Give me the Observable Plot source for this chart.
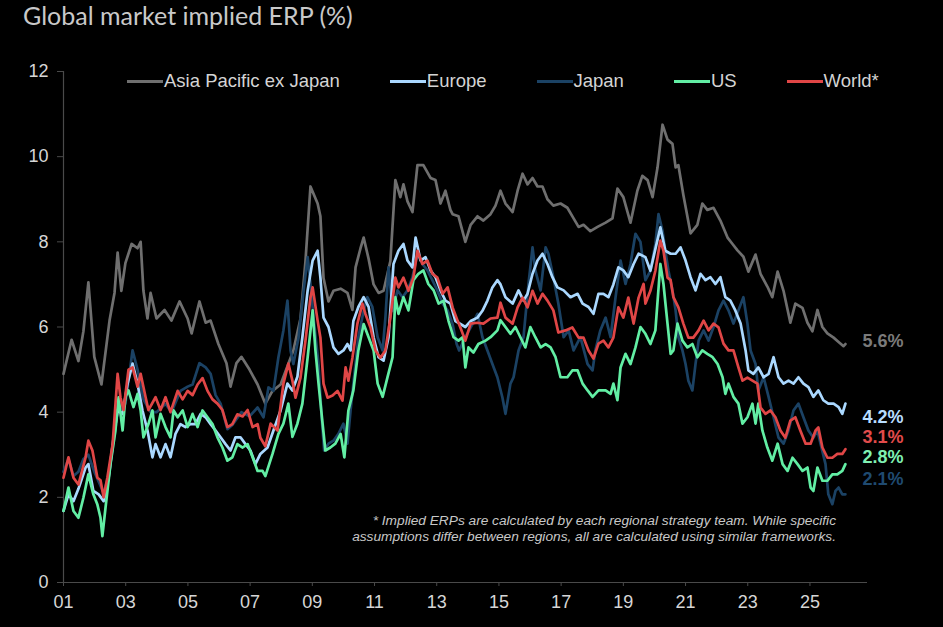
<!DOCTYPE html>
<html>
<head>
<meta charset="utf-8">
<script src="https://cdn.jsdelivr.net/npm/d3@7"></script>
<script src="https://cdn.jsdelivr.net/npm/@observablehq/plot@0.6"></script>
<style>
  html, body { margin: 0; padding: 0; background: #000; }
  body { width: 943px; height: 627px; overflow: hidden; position: relative; }
  #titlebar { height: 40px; position: relative; }
  #title { position: absolute; left: 23px; top: 0px; font: 25px Lato, "Open Sans", sans-serif; line-height: 30px; color: #c9c9c9; white-space: nowrap; }
  #legend { position: absolute; left: 127px; top: 70px; height: 22px; display: flex; align-items: center; font: 18.5px "Liberation Sans", Arial, sans-serif; color: #d4d4d4; white-space: nowrap; }
  .item { display: flex; align-items: center; margin-right: 50px; }
  .sw { width: 36px; height: 3px; margin-right: 1px; }
  #note { position: absolute; right: 107px; top: 513px; font: italic 13.7px "Liberation Sans", Arial, sans-serif; line-height: 16px; color: #c8c8c8; text-align: right; white-space: nowrap; }
</style>
</head>
<body>
<div id="titlebar"><div id="title">Global market implied ERP (%)</div></div>
<div id="chart"></div>
<div id="legend"></div>
<div id="note">* Implied ERPs are calculated by each regional strategy team. While specific<br>assumptions differ between regions, all are calculated using similar frameworks.</div>
<script>
// ---- Data (decimal year, implied ERP %) ----
const seriesNames = ["Asia Pacific ex Japan", "Europe", "Japan", "US", "World*"];
const xTicks = [2001, 2003, 2005, 2007, 2009, 2011, 2013, 2015, 2017, 2019, 2021, 2023, 2025];
const yTicks = [0, 2, 4, 6, 8, 10, 12];

const asiaPacExJapan = [[2001.00,4.9],[2001.26,5.7],[2001.48,5.2],[2001.64,5.9],[2001.80,7.05],[2001.99,5.3],[2002.22,4.65],[2002.48,6.15],[2002.64,6.8],[2002.74,7.75],[2002.86,6.85],[2002.99,7.5],[2003.19,7.95],[2003.38,7.85],[2003.48,8.0],[2003.57,6.85],[2003.70,6.2],[2003.80,6.8],[2003.99,6.2],[2004.25,6.4],[2004.47,6.15],[2004.73,6.6],[2004.99,6.2],[2005.12,5.85],[2005.37,6.6],[2005.57,6.1],[2005.73,6.15],[2005.98,5.6],[2006.24,5.15],[2006.37,4.6],[2006.56,5.15],[2006.72,5.3],[2006.98,5.0],[2007.24,4.65],[2007.49,4.2],[2007.72,4.5],[2007.98,4.65],[2008.39,5.45],[2008.62,6.2],[2008.78,7.55],[2008.94,9.3],[2009.17,8.9],[2009.26,8.6],[2009.36,7.15],[2009.52,6.6],[2009.68,6.85],[2009.91,6.9],[2010.13,6.8],[2010.29,6.4],[2010.39,7.4],[2010.55,7.85],[2010.65,8.1],[2010.81,7.6],[2010.97,7.0],[2011.13,6.8],[2011.29,6.85],[2011.51,7.55],[2011.67,9.45],[2011.83,9.05],[2011.93,9.35],[2012.06,8.95],[2012.22,8.7],[2012.38,9.8],[2012.57,9.8],[2012.80,9.5],[2012.96,9.45],[2013.12,8.9],[2013.28,9.2],[2013.44,8.75],[2013.51,8.65],[2013.70,8.6],[2013.92,8.0],[2014.09,8.4],[2014.31,8.6],[2014.50,8.5],[2014.73,8.65],[2014.89,8.85],[2015.05,9.2],[2015.21,8.9],[2015.44,8.7],[2015.60,9.2],[2015.76,9.6],[2015.92,9.35],[2016.08,9.5],[2016.24,9.3],[2016.40,9.3],[2016.56,9.0],[2016.75,8.85],[2016.98,8.9],[2017.20,8.8],[2017.40,8.55],[2017.56,8.35],[2017.72,8.4],[2017.94,8.25],[2018.17,8.35],[2018.43,8.45],[2018.65,8.55],[2018.81,9.25],[2019.00,9.05],[2019.23,8.45],[2019.45,9.2],[2019.61,9.55],[2019.78,9.45],[2019.94,9.05],[2020.10,9.75],[2020.26,10.75],[2020.42,10.4],[2020.58,10.3],[2020.68,9.75],[2020.77,9.8],[2020.93,9.1],[2021.16,8.2],[2021.38,8.4],[2021.54,8.9],[2021.70,8.75],[2021.90,8.8],[2022.12,8.5],[2022.35,8.1],[2022.51,7.95],[2022.67,7.8],[2022.86,7.65],[2023.02,7.3],[2023.25,7.7],[2023.41,7.25],[2023.63,6.95],[2023.79,6.7],[2023.96,7.3],[2024.15,6.85],[2024.37,6.1],[2024.53,6.55],[2024.76,6.45],[2024.92,6.1],[2025.08,5.9],[2025.24,6.4],[2025.40,6.0],[2025.56,5.85],[2025.76,5.75],[2025.92,5.65],[2026.08,5.55],[2026.14,5.6]];

const europe = [[2001.00,1.68],[2001.16,2.07],[2001.32,1.91],[2001.48,2.2],[2001.71,2.7],[2001.80,2.78],[2001.96,2.15],[2002.13,2.07],[2002.29,1.91],[2002.45,2.46],[2002.61,3.41],[2002.74,4.04],[2002.90,3.96],[2003.06,4.67],[2003.22,5.14],[2003.38,4.67],[2003.54,4.04],[2003.70,3.57],[2003.86,2.94],[2003.96,3.25],[2004.12,2.94],[2004.28,3.25],[2004.44,2.94],[2004.60,3.49],[2004.76,3.72],[2004.92,3.65],[2005.08,3.72],[2005.24,3.72],[2005.41,3.96],[2005.57,3.88],[2005.73,3.72],[2005.89,3.57],[2006.05,3.41],[2006.21,3.25],[2006.37,3.1],[2006.53,3.41],[2006.69,3.41],[2006.85,3.25],[2007.01,3.1],[2007.17,2.78],[2007.33,3.02],[2007.56,3.17],[2007.75,3.57],[2007.98,4.04],[2008.20,4.67],[2008.36,4.51],[2008.52,4.83],[2008.68,5.76],[2008.85,6.86],[2009.01,7.56],[2009.17,7.79],[2009.26,7.16],[2009.36,6.22],[2009.52,6.0],[2009.68,5.52],[2009.84,5.37],[2010.00,5.45],[2010.13,5.6],[2010.23,5.45],[2010.32,6.14],[2010.48,6.47],[2010.65,6.7],[2010.81,6.47],[2010.97,5.76],[2011.13,5.29],[2011.29,5.21],[2011.45,5.76],[2011.61,7.48],[2011.77,7.79],[2011.93,7.95],[2012.06,7.56],[2012.22,7.4],[2012.32,8.1],[2012.48,7.56],[2012.64,7.64],[2012.80,7.33],[2012.96,7.17],[2013.12,6.86],[2013.28,6.62],[2013.44,6.55],[2013.60,6.14],[2013.76,6.07],[2013.92,6.0],[2014.09,6.14],[2014.31,6.22],[2014.47,6.38],[2014.63,6.62],[2014.79,6.93],[2014.95,7.1],[2015.05,7.0],[2015.21,6.7],[2015.44,6.55],[2015.63,6.86],[2015.79,6.62],[2015.92,6.78],[2016.08,7.25],[2016.24,7.56],[2016.40,7.72],[2016.56,7.48],[2016.72,7.17],[2016.88,6.93],[2017.08,6.86],[2017.30,6.7],[2017.53,6.78],[2017.69,6.55],[2017.88,6.47],[2018.04,6.31],[2018.20,6.78],[2018.36,6.78],[2018.52,6.7],[2018.68,7.0],[2018.84,7.4],[2019.00,7.33],[2019.16,7.17],[2019.33,7.48],[2019.49,7.72],[2019.71,7.64],[2019.87,7.32],[2019.97,7.64],[2020.19,8.34],[2020.35,7.79],[2020.52,7.72],[2020.68,7.72],[2020.84,7.87],[2021.00,7.56],[2021.16,7.17],[2021.32,6.86],[2021.48,7.25],[2021.64,7.1],[2021.80,7.17],[2021.96,7.01],[2022.12,7.17],[2022.28,6.7],[2022.44,6.62],[2022.60,6.39],[2022.77,6.08],[2022.93,5.45],[2023.02,4.98],[2023.18,4.9],[2023.34,5.05],[2023.51,4.82],[2023.67,4.9],[2023.83,5.29],[2023.99,4.82],[2024.15,4.67],[2024.31,4.74],[2024.47,4.67],[2024.63,4.82],[2024.79,4.67],[2024.95,4.59],[2025.11,4.36],[2025.27,4.51],[2025.43,4.28],[2025.59,4.2],[2025.76,4.2],[2025.92,4.12],[2026.04,3.96],[2026.14,4.2]];

const japan = [[2001.00,2.6],[2001.16,2.9],[2001.32,2.5],[2001.48,2.6],[2001.64,2.9],[2001.80,3.0],[2001.99,2.6],[2002.29,2.1],[2002.48,2.6],[2002.74,4.0],[2002.99,4.2],[2003.22,5.45],[2003.38,5.0],[2003.57,4.3],[2003.80,4.0],[2003.99,4.0],[2004.28,4.2],[2004.47,4.0],[2004.76,4.5],[2004.99,4.6],[2005.15,4.65],[2005.37,5.15],[2005.57,5.05],[2005.73,4.9],[2005.89,4.4],[2006.05,4.2],[2006.27,3.6],[2006.43,3.7],[2006.72,4.0],[2006.98,3.9],[2007.24,4.11],[2007.43,3.88],[2007.59,4.58],[2007.75,4.5],[2007.91,5.29],[2008.07,5.92],[2008.20,6.62],[2008.30,5.45],[2008.39,5.13],[2008.56,5.76],[2008.72,6.86],[2008.85,7.64],[2008.94,7.01],[2009.04,6.22],[2009.20,5.13],[2009.30,3.88],[2009.38,3.1],[2009.52,3.26],[2009.68,3.33],[2009.84,3.49],[2010.00,3.73],[2010.13,3.26],[2010.23,4.04],[2010.32,4.67],[2010.48,5.76],[2010.65,6.38],[2010.77,6.7],[2010.93,6.47],[2011.10,5.76],[2011.26,5.45],[2011.35,6.22],[2011.45,7.4],[2011.58,6.38],[2011.74,6.86],[2011.90,6.7],[2012.06,6.86],[2012.22,7.17],[2012.38,7.72],[2012.54,7.48],[2012.70,7.33],[2012.86,7.1],[2013.02,6.86],[2013.19,6.55],[2013.35,6.39],[2013.51,6.07],[2013.64,5.6],[2013.72,5.45],[2013.92,5.76],[2014.15,6.07],[2014.31,6.31],[2014.47,5.76],[2014.63,5.45],[2014.79,5.13],[2014.95,4.82],[2015.11,4.35],[2015.21,3.96],[2015.37,4.67],[2015.47,4.82],[2015.63,5.45],[2015.79,5.76],[2015.95,7.01],[2016.08,7.87],[2016.17,7.33],[2016.34,6.86],[2016.50,7.87],[2016.59,7.72],[2016.75,7.17],[2016.91,6.55],[2017.08,5.76],[2017.24,5.92],[2017.40,5.45],[2017.62,5.76],[2017.85,5.13],[2018.01,4.98],[2018.10,5.45],[2018.26,5.92],[2018.43,6.22],[2018.59,5.76],[2018.75,6.7],[2018.91,7.56],[2019.07,7.01],[2019.23,7.48],[2019.39,8.19],[2019.55,8.0],[2019.71,7.1],[2019.87,7.32],[2020.03,7.95],[2020.13,8.65],[2020.26,8.26],[2020.35,7.79],[2020.45,7.32],[2020.58,6.86],[2020.68,6.39],[2020.77,5.76],[2020.90,5.45],[2021.00,5.13],[2021.09,4.74],[2021.22,4.51],[2021.32,5.13],[2021.42,5.68],[2021.58,5.92],[2021.74,5.68],[2021.90,6.0],[2022.06,6.39],[2022.22,6.62],[2022.38,6.39],[2022.54,6.08],[2022.70,6.39],[2022.86,6.7],[2022.99,6.08],[2023.09,5.45],[2023.25,5.13],[2023.34,4.51],[2023.51,4.82],[2023.67,4.36],[2023.83,3.88],[2023.99,3.4],[2024.15,3.26],[2024.31,3.57],[2024.47,4.04],[2024.63,4.2],[2024.79,3.88],[2024.95,3.57],[2025.11,3.4],[2025.24,3.57],[2025.34,3.26],[2025.50,2.78],[2025.59,2.07],[2025.72,1.84],[2025.82,2.15],[2025.92,2.23],[2026.04,2.07],[2026.14,2.07]];

const us = [[2001.00,1.68],[2001.16,2.23],[2001.32,1.68],[2001.48,1.52],[2001.64,1.99],[2001.80,2.54],[2001.96,2.07],[2002.09,1.83],[2002.19,1.52],[2002.25,1.09],[2002.35,1.75],[2002.51,2.78],[2002.67,3.57],[2002.77,4.35],[2002.90,3.57],[2002.99,4.35],[2003.09,4.51],[2003.25,4.12],[2003.38,4.43],[2003.48,4.04],[2003.57,3.41],[2003.73,3.72],[2003.86,4.04],[2003.96,3.41],[2004.12,3.96],[2004.28,3.65],[2004.44,3.41],[2004.54,4.04],[2004.67,3.88],[2004.83,4.04],[2004.99,3.65],[2005.15,3.96],[2005.31,3.65],[2005.47,4.04],[2005.63,3.88],[2005.79,3.72],[2005.95,3.41],[2006.11,3.17],[2006.27,2.86],[2006.43,2.94],[2006.59,3.25],[2006.76,3.17],[2006.92,3.25],[2007.08,2.94],[2007.24,2.62],[2007.40,2.62],[2007.49,2.5],[2007.72,3.02],[2007.91,3.49],[2008.07,3.73],[2008.23,4.2],[2008.36,3.42],[2008.52,3.73],[2008.68,4.2],[2008.85,5.29],[2009.01,6.39],[2009.10,5.45],[2009.20,4.67],[2009.33,3.73],[2009.42,3.1],[2009.58,3.17],[2009.74,3.26],[2009.91,3.49],[2010.03,2.94],[2010.16,4.04],[2010.32,4.51],[2010.48,5.45],[2010.65,6.07],[2010.81,5.76],[2010.97,5.45],[2011.10,4.67],[2011.26,4.36],[2011.42,4.83],[2011.58,5.29],[2011.67,6.7],[2011.77,6.31],[2011.93,6.7],[2012.09,6.39],[2012.25,7.1],[2012.41,7.25],[2012.57,7.33],[2012.73,7.01],[2012.90,6.86],[2013.06,6.55],[2013.22,6.62],[2013.38,6.14],[2013.54,5.76],[2013.70,5.68],[2013.83,5.76],[2013.92,5.05],[2014.02,5.52],[2014.18,5.4],[2014.34,5.6],[2014.57,5.68],[2014.73,5.76],[2014.95,5.92],[2015.05,6.16],[2015.21,6.0],[2015.37,5.84],[2015.53,6.0],[2015.69,5.76],[2015.85,5.52],[2016.01,6.0],[2016.17,5.76],[2016.34,5.52],[2016.50,5.6],[2016.66,5.52],[2016.82,5.29],[2016.98,4.82],[2017.20,4.82],[2017.36,4.98],[2017.53,4.98],[2017.69,4.67],[2017.85,4.51],[2018.01,4.36],[2018.20,4.51],[2018.43,4.51],[2018.59,4.43],[2018.68,4.67],[2018.81,4.28],[2018.91,5.05],[2019.07,5.37],[2019.23,5.13],[2019.39,5.52],[2019.55,6.0],[2019.71,5.84],[2019.87,5.6],[2020.03,5.92],[2020.19,7.48],[2020.29,7.01],[2020.42,6.08],[2020.52,5.37],[2020.61,5.45],[2020.74,6.08],[2020.90,5.68],[2021.06,5.52],[2021.22,5.6],[2021.38,5.29],[2021.54,5.45],[2021.70,5.37],[2021.87,5.29],[2022.03,5.13],[2022.19,4.82],[2022.28,4.43],[2022.38,4.67],[2022.54,4.36],[2022.70,4.2],[2022.83,3.73],[2022.99,3.88],[2023.15,4.2],[2023.25,3.73],[2023.34,4.2],[2023.47,3.57],[2023.63,3.17],[2023.79,2.86],[2023.96,3.26],[2024.12,2.78],[2024.28,2.62],[2024.44,2.93],[2024.60,2.78],[2024.76,2.62],[2024.92,2.7],[2025.02,2.23],[2025.11,2.15],[2025.24,2.7],[2025.40,2.39],[2025.56,2.39],[2025.72,2.54],[2025.88,2.54],[2026.04,2.62],[2026.14,2.78]];

const world = [[2001.00,2.46],[2001.16,2.94],[2001.32,2.46],[2001.48,2.3],[2001.71,2.94],[2001.80,3.33],[2001.93,3.1],[2002.09,2.46],[2002.19,2.4],[2002.29,2.0],[2002.41,2.46],[2002.58,3.25],[2002.74,4.9],[2002.83,4.35],[2002.93,4.05],[2003.09,5.0],[2003.22,5.05],[2003.38,4.6],[2003.48,4.9],[2003.64,4.35],[2003.73,4.05],[2003.96,4.35],[2004.12,4.05],[2004.28,4.35],[2004.44,4.0],[2004.67,4.5],[2004.83,4.3],[2004.99,4.5],[2005.15,4.4],[2005.31,4.65],[2005.47,4.8],[2005.63,4.5],[2005.79,4.3],[2005.95,4.2],[2006.11,4.05],[2006.27,3.65],[2006.43,3.72],[2006.59,3.95],[2006.76,3.9],[2006.92,4.05],[2007.08,3.65],[2007.24,3.72],[2007.33,3.4],[2007.49,3.2],[2007.66,3.73],[2007.88,3.57],[2008.07,4.67],[2008.23,5.14],[2008.36,4.74],[2008.46,4.34],[2008.62,4.81],[2008.78,5.68],[2008.94,6.69],[2009.01,6.93],[2009.17,6.15],[2009.26,5.75],[2009.36,4.67],[2009.49,4.34],[2009.65,4.39],[2009.81,4.5],[2009.97,4.27],[2010.07,5.05],[2010.16,4.74],[2010.29,5.28],[2010.45,6.08],[2010.61,6.55],[2010.71,6.3],[2010.87,5.99],[2011.03,5.45],[2011.19,5.28],[2011.35,5.45],[2011.51,6.22],[2011.67,7.16],[2011.77,6.93],[2011.93,7.16],[2012.09,6.85],[2012.25,7.16],[2012.38,7.79],[2012.54,7.48],[2012.70,7.56],[2012.86,7.25],[2013.02,7.16],[2013.19,6.78],[2013.35,6.93],[2013.51,6.46],[2013.67,6.15],[2013.76,5.99],[2013.92,5.68],[2014.09,6.08],[2014.31,6.1],[2014.50,6.08],[2014.73,6.2],[2014.95,6.22],[2015.05,6.57],[2015.21,6.22],[2015.44,6.08],[2015.60,6.46],[2015.76,6.69],[2015.92,6.46],[2016.08,6.85],[2016.24,6.55],[2016.40,6.78],[2016.56,6.62],[2016.75,6.39],[2016.91,5.87],[2017.14,5.92],[2017.36,5.99],[2017.56,5.75],[2017.72,5.75],[2017.88,5.45],[2018.04,5.26],[2018.20,5.61],[2018.36,5.68],[2018.52,5.52],[2018.68,5.75],[2018.84,6.46],[2019.00,6.22],[2019.16,6.69],[2019.33,6.08],[2019.49,6.69],[2019.65,7.01],[2019.71,6.55],[2019.87,6.85],[2020.03,7.32],[2020.19,8.03],[2020.29,7.79],[2020.42,7.16],[2020.52,7.1],[2020.61,6.7],[2020.77,6.46],[2020.93,6.08],[2021.09,5.75],[2021.25,5.75],[2021.42,5.92],[2021.58,6.15],[2021.74,5.92],[2021.90,6.08],[2022.06,5.99],[2022.22,5.61],[2022.38,5.45],[2022.54,5.45],[2022.70,5.05],[2022.83,4.74],[2022.99,4.81],[2023.15,4.74],[2023.31,4.67],[2023.41,4.11],[2023.57,3.96],[2023.73,4.04],[2023.89,3.88],[2024.05,3.57],[2024.21,3.4],[2024.37,3.8],[2024.53,3.88],[2024.69,3.57],[2024.86,3.26],[2025.02,3.26],[2025.18,3.57],[2025.27,3.64],[2025.40,3.17],[2025.56,2.93],[2025.72,2.93],[2025.88,3.02],[2026.04,3.02],[2026.14,3.13]];

// ---- Styles ----
const seriesData = [asiaPacExJapan, europe, japan, us, world];
const lineColors = ["#6f6f6f", "#aad8ff", "#1b4264", "#62eea4", "#e04646"];
const labelColors = ["#7a7a7a", "#b8ddff", "#1f4a70", "#7ff0b2", "#e24b4b"];
const drawOrder = [0, 2, 1, 3, 4];
const labelDy = [-3, 14, -15, -7, -12]; // px nudges for end labels: Asia, Europe, Japan, US, World

const rowsOf = arr => arr.map(([x, y]) => ({x, y}));

const marks = [
  Plot.ruleY([0], {stroke: "#4a4a4a", strokeWidth: 1.2}),
  Plot.ruleX([2001], {stroke: "#4a4a4a", strokeWidth: 1.2}),
  Plot.axisX({ticks: xTicks, tickSize: 4, tickPadding: 9, stroke: "#4a4a4a", fill: "#d6d6d6",
    tickFormat: d => String(d % 100).padStart(2, "0"), label: null}),
  Plot.axisY({ticks: yTicks, tickSize: 6, tickPadding: 9, stroke: "#4a4a4a", fill: "#d6d6d6", label: null})
];
for (const i of drawOrder) {
  marks.push(Plot.line(rowsOf(seriesData[i]), {x: "x", y: "y", stroke: lineColors[i], strokeWidth: 2.7, strokeLinejoin: "round", strokeLinecap: "round"}));
}
seriesData.forEach((arr, i) => {
  const last = arr[arr.length - 1];
  marks.push(Plot.text([{x: last[0], y: last[1], t: last[1].toFixed(1) + "%"}], {
    x: "x", y: "y", text: "t", fill: labelColors[i], dx: 17, dy: labelDy[i], textAnchor: "start",
    fontSize: 18, fontWeight: "bold"
  }));
});

const chart = Plot.plot({
  width: 943, height: 587,
  marginLeft: 63, marginRight: 76, marginTop: 31, marginBottom: 45,
  style: {background: "#000", color: "#d6d6d6", fontFamily: "'Liberation Sans', Arial, sans-serif", fontSize: "18px", overflow: "visible"},
  x: {domain: [2001, 2026.85], axis: null},
  y: {domain: [0, 12], axis: null},
  marks
});
document.getElementById("chart").appendChild(chart);

// ---- Legend ----
const legend = document.getElementById("legend");
seriesNames.forEach((name, i) => {
  const it = document.createElement("div");
  it.className = "item";
  const sw = document.createElement("div");
  sw.className = "sw";
  sw.style.background = lineColors[i];
  const tx = document.createElement("span");
  tx.textContent = name;
  it.appendChild(sw); it.appendChild(tx);
  legend.appendChild(it);
});
</script>
</body>
</html>
